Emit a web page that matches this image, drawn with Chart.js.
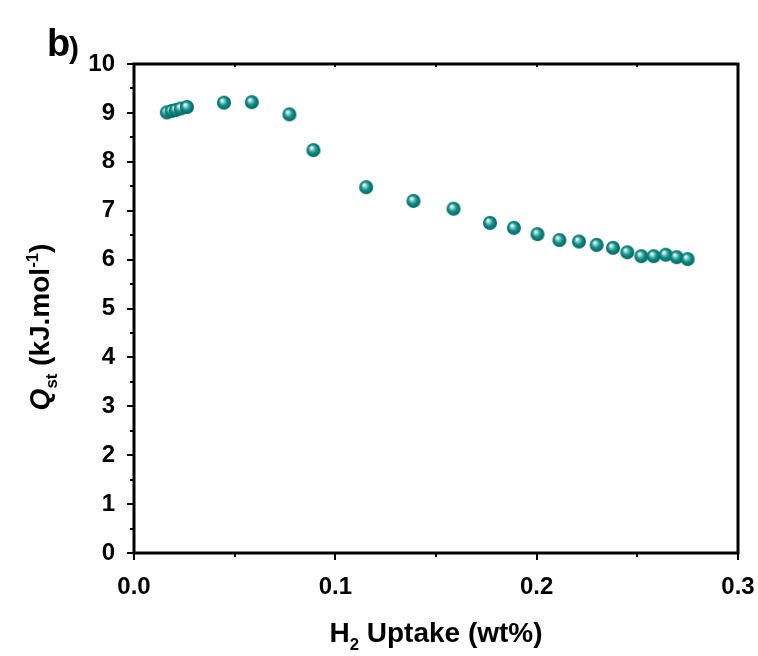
<!DOCTYPE html>
<html>
<head>
<meta charset="utf-8">
<script src="https://cdn.jsdelivr.net/npm/chart.js@4.4.1/dist/chart.umd.min.js"></script>
<style>
  html, body { margin: 0; padding: 0; background: #fff; }
  #wrap { width: 758px; height: 656px; position: relative; }
</style>
</head>
<body>
<div id="wrap"><canvas id="myChart" width="758" height="656"></canvas></div>
<script>
// H2 uptake (wt%) and isosteric heat Qst (kJ/mol)
const uptake = [0.0163, 0.0187, 0.0208, 0.0232, 0.0263, 0.0447, 0.0585, 0.0772, 0.0891,
  0.1153, 0.1388, 0.1587, 0.1768, 0.1887, 0.2004, 0.2113, 0.2210, 0.2298, 0.2379,
  0.2450, 0.2520, 0.2581, 0.2641, 0.2695, 0.2750];
const qst = [9.01, 9.04, 9.06, 9.09, 9.12, 9.21, 9.22, 8.97, 8.24,
  7.48, 7.20, 7.04, 6.75, 6.65, 6.52, 6.40, 6.37, 6.30, 6.24,
  6.15, 6.07, 6.07, 6.10, 6.05, 6.01];
const xTicks = [0, 0.1, 0.2, 0.3];
const yTicks = [0, 1, 2, 3, 4, 5, 6, 7, 8, 9, 10];

const FONT = "'Liberation Sans', Arial, sans-serif";

// shaded sphere used as the marker
function makeBall(r) {
  const c = document.createElement("canvas");
  c.width = c.height = r * 2 + 2;
  const g = c.getContext("2d");
  const cx = r + 1, cy = r + 1;
  const grad = g.createRadialGradient(cx - r * 0.3, cy - r * 0.35, 0.5, cx, cy, r);
  grad.addColorStop(0, "#ffffff");
  grad.addColorStop(0.2, "#8fd6d1");
  grad.addColorStop(0.55, "#0f8f89");
  grad.addColorStop(1, "#05645f");
  g.fillStyle = grad;
  g.beginPath();
  g.arc(cx, cy, r, 0, Math.PI * 2);
  g.fill();
  return c;
}

// pieces are [text, mode], mode: 0 normal, 1 sub, 2 sup, 3 italic
function pieceFont(p, size) {
  const s = p[1] === 1 || p[1] === 2 ? size * 0.6 : size;
  return (p[1] === 3 ? "italic " : "") + "bold " + s + "px " + FONT;
}
function richWidth(ctx, parts, size) {
  let w = 0;
  parts.forEach(function (p) {
    ctx.font = pieceFont(p, size);
    w += ctx.measureText(p[0]).width;
  });
  return w;
}
function drawRich(ctx, parts, size, x, y) {
  parts.forEach(function (p) {
    ctx.font = pieceFont(p, size);
    let dy = 0;
    if (p[1] === 1) dy = size * 0.3;
    if (p[1] === 2) dy = -size * 0.4;
    ctx.fillText(p[0], x, y + dy);
    x += ctx.measureText(p[0]).width;
  });
}

const framePlugin = {
  id: "frame",
  afterDraw(chart) {
    const ctx = chart.ctx;
    const a = chart.chartArea;
    const xs = chart.scales.x, ys = chart.scales.y;
    ctx.save();
    ctx.strokeStyle = "#000";
    ctx.fillStyle = "#000";
    ctx.lineWidth = 2;
    // y ticks, major at integers, minor at halves
    for (let v = 0; v <= 10; v += 0.5) {
      const py = Math.round(ys.getPixelForValue(v));
      const len = v % 1 === 0 ? 7 : 4;
      ctx.beginPath();
      ctx.moveTo(a.left - len, py);
      ctx.lineTo(a.left, py);
      ctx.stroke();
    }
    // x ticks, major at 0.1, minor at 0.05
    for (let i = 0; i <= 6; i++) {
      const px = Math.round(xs.getPixelForValue(i * 0.05));
      const len = i % 2 === 0 ? 7 : 4;
      ctx.beginPath();
      ctx.moveTo(px, a.bottom);
      ctx.lineTo(px, a.bottom + len);
      ctx.stroke();
      ctx.beginPath();
      ctx.moveTo(px, a.top);
      ctx.lineTo(px, a.top + 3);
      ctx.stroke();
    }
    ctx.lineWidth = 3;
    ctx.strokeRect(a.left, a.top, a.right - a.left, a.bottom - a.top);

    // axis titles
    ctx.textBaseline = "alphabetic";
    const xt = [["H", 0], ["2", 1], [" Uptake (wt%)", 0]];
    const xw = richWidth(ctx, xt, 28);
    drawRich(ctx, xt, 28, 436 - xw / 2, 642);

    const yt = [["Q", 3], ["st", 1], [" (kJ.mol", 0], ["-1", 2], [")", 0]];
    const yw = richWidth(ctx, yt, 28);
    ctx.translate(49, 327);
    ctx.rotate(-Math.PI / 2);
    drawRich(ctx, yt, 28, -yw / 2, 0);
    ctx.restore();

    // panel letter
    ctx.save();
    ctx.fillStyle = "#000";
    ctx.font = "bold 38px " + FONT;
    ctx.fillText("b", 47, 56);
    ctx.font = "bold 30px " + FONT;
    ctx.fillText(")", 69, 58);
    ctx.restore();
  }
};

const ctx = document.getElementById("myChart").getContext("2d");
const myChart = new Chart(ctx, {
  type: "scatter",
  data: {
    datasets: [
      {
        data: uptake.map(function (u, i) { return { x: u, y: qst[i] }; }),
        pointStyle: makeBall(7),
        pointRadius: 7,
        pointHoverRadius: 7,
      },
    ],
  },
  options: {
    responsive: false,
    animation: false,
    layout: { padding: { top: 64, right: 20, left: 0, bottom: 0 } },
    scales: {
      x: {
        type: "linear",
        min: 0,
        max: 0.3,
        afterBuildTicks: function (s) { s.ticks = xTicks.map(function (v) { return { value: v }; }); },
        afterFit: function (s) { s.height = 103; s.paddingLeft = 0; s.paddingRight = 0; },
        grid: { display: false },
        border: { display: false },
        ticks: {
          color: "#000",
          padding: 12,
          font: { family: FONT, size: 24, weight: "bold" },
          callback: function (v) { return v.toFixed(1); },
        },
      },
      y: {
        min: 0,
        max: 10,
        afterBuildTicks: function (s) { s.ticks = yTicks.map(function (v) { return { value: v }; }); },
        afterFit: function (s) { s.width = 134; s.paddingTop = 0; s.paddingBottom = 0; },
        grid: { display: false },
        border: { display: false },
        ticks: {
          color: "#000",
          padding: 11,
          font: { family: FONT, size: 24, weight: "bold" },
        },
      },
    },
    plugins: {
      legend: { display: false },
      tooltip: { enabled: false },
    },
  },
  plugins: [framePlugin],
});
</script>
</body>
</html>
